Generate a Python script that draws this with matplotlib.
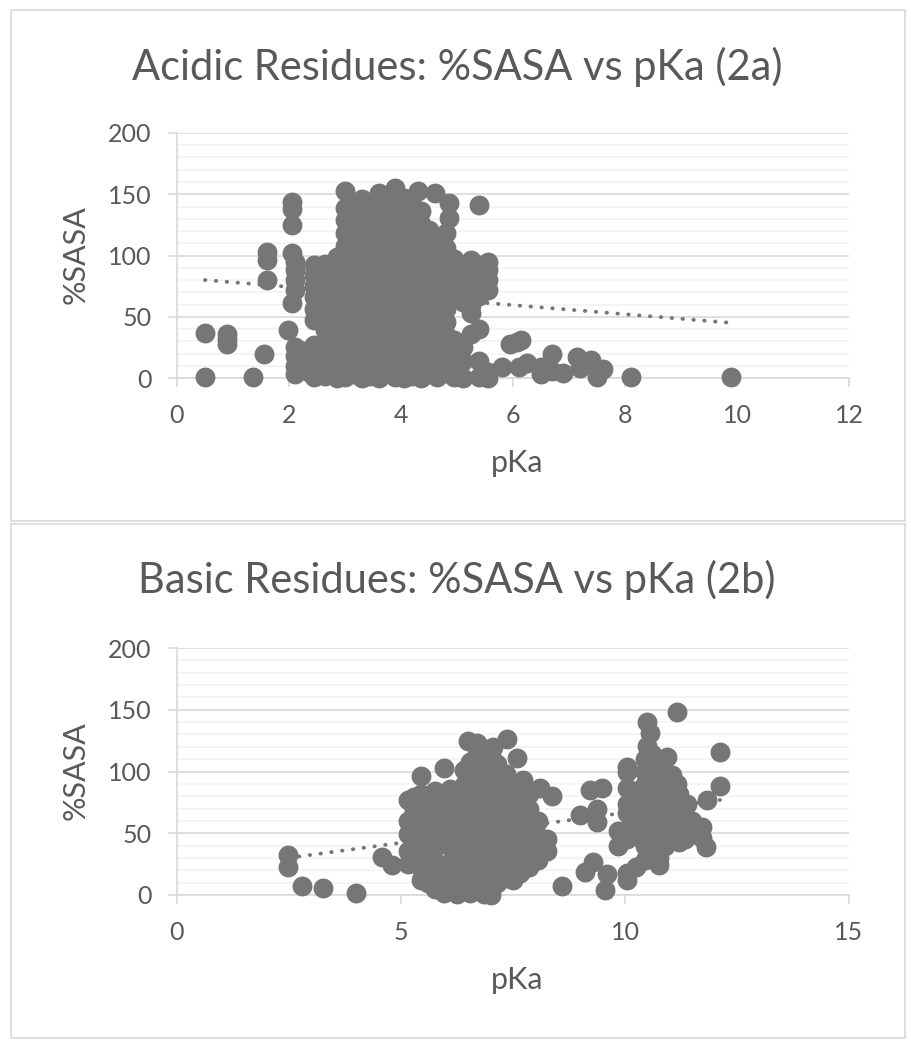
import matplotlib.pyplot as plt
from matplotlib.patches import Rectangle
from matplotlib.ticker import MultipleLocator

plt.rcParams['font.family'] = ['Lato', 'DejaVu Sans']

# (pKa, %SASA), acidic residues
acid_points = [
    # low pKa stragglers
    (0.5, 37), (0.5, 1), (0.9, 36), (0.9, 32), (0.9, 28), (1.35, 1), (1.55, 20),
    (1.6, 103), (1.6, 96), (1.6, 80),
    (2.05, 144), (2.05, 138), (2.05, 125), (2.05, 102), (2.1, 95), (2.1, 88),
    (2.1, 80), (2.1, 72), (2.05, 61), (1.98, 39), (2.1, 25), (2.1, 18), (2.1, 10),
    (2.1, 3), (2.25, 22), (2.3, 12), (2.35, 5), (2.4, 18),
    # main cluster
    (2.45, 1), (2.45, 9), (2.45, 17), (2.45, 27), (2.45, 47), (2.45, 56), (2.45, 66), (2.45, 75), (2.45, 84), (2.45, 92),
    (2.65, 2), (2.65, 11), (2.65, 20), (2.65, 30), (2.65, 39), (2.65, 49), (2.65, 58), (2.65, 68), (2.65, 77), (2.65, 86), (2.65, 93),
    (2.85, 0), (2.85, 9), (2.85, 18), (2.85, 28), (2.85, 38), (2.85, 47), (2.85, 57), (2.85, 66), (2.85, 76), (2.85, 85), (2.85, 91), (2.85, 99),
    (3.0, 1), (3.0, 12), (3.0, 22), (3.0, 33), (3.0, 44), (3.0, 54), (3.0, 65), (3.0, 76), (3.0, 86), (3.0, 97), (3.0, 108), (3.0, 118), (3.0, 129), (3.0, 139), (3.0, 153),
    (3.15, 3), (3.15, 8), (3.15, 19), (3.15, 29), (3.15, 40), (3.15, 51), (3.15, 61), (3.15, 72), (3.15, 83), (3.15, 93), (3.15, 104), (3.15, 114), (3.15, 125), (3.15, 136), (3.15, 143),
    (3.3, 0), (3.3, 14), (3.3, 25), (3.3, 36), (3.3, 46), (3.3, 57), (3.3, 68), (3.3, 79), (3.3, 89), (3.3, 100), (3.3, 111), (3.3, 121), (3.3, 132), (3.3, 146),
    (3.45, 2), (3.45, 9), (3.45, 20), (3.45, 31), (3.45, 42), (3.45, 52), (3.45, 63), (3.45, 74), (3.45, 85), (3.45, 95), (3.45, 106), (3.45, 117), (3.45, 127), (3.45, 138),
    (3.6, 0), (3.6, 13), (3.6, 24), (3.6, 35), (3.6, 45), (3.6, 56), (3.6, 67), (3.6, 78), (3.6, 88), (3.6, 99), (3.6, 110), (3.6, 120), (3.6, 131), (3.6, 141), (3.6, 151),
    (3.75, 4), (3.75, 10), (3.75, 19), (3.75, 30), (3.75, 41), (3.75, 51), (3.75, 62), (3.75, 73), (3.75, 84), (3.75, 94), (3.75, 105), (3.75, 116), (3.75, 126), (3.75, 137), (3.75, 146),
    (3.9, 1), (3.9, 14), (3.9, 25), (3.9, 36), (3.9, 46), (3.9, 57), (3.9, 68), (3.9, 79), (3.9, 89), (3.9, 100), (3.9, 111), (3.9, 121), (3.9, 132), (3.9, 143), (3.9, 155),
    (4.05, 0), (4.05, 8), (4.05, 20), (4.05, 31), (4.05, 42), (4.05, 52), (4.05, 63), (4.05, 74), (4.05, 85), (4.05, 95), (4.05, 106), (4.05, 117), (4.05, 127), (4.05, 138), (4.05, 147),
    (4.2, 2), (4.2, 13), (4.2, 24), (4.2, 35), (4.2, 45), (4.2, 56), (4.2, 67), (4.2, 78), (4.2, 88), (4.2, 99), (4.2, 110), (4.2, 120), (4.2, 131), (4.2, 141), (4.3, 153),
    (4.35, 0), (4.35, 9), (4.35, 19), (4.35, 30), (4.35, 41), (4.35, 51), (4.35, 62), (4.35, 73), (4.35, 84), (4.35, 94), (4.35, 105), (4.35, 115), (4.35, 126), (4.35, 136),
    (4.5, 3), (4.5, 14), (4.5, 25), (4.5, 36), (4.5, 46), (4.5, 57), (4.5, 68), (4.5, 79), (4.5, 89), (4.5, 100), (4.5, 111), (4.5, 121), (4.6, 151),
    (4.65, 1), (4.65, 8), (4.65, 20), (4.65, 31), (4.65, 42), (4.65, 52), (4.65, 63), (4.65, 74), (4.65, 85), (4.65, 95), (4.65, 104), (4.65, 113),
    (4.8, 4), (4.8, 13), (4.8, 24), (4.8, 35), (4.8, 46), (4.8, 56), (4.8, 66), (4.8, 76), (4.8, 86), (4.8, 96), (4.8, 106), (4.8, 118), (4.85, 131), (4.85, 143),
    (4.95, 1), (4.95, 12), (4.95, 22), (4.95, 31), (4.95, 66), (4.95, 77), (4.95, 87), (4.95, 97),
    (5.1, 0), (5.1, 14), (5.1, 25), (5.1, 62), (5.1, 72), (5.1, 82), (5.1, 92),
    (5.25, 36), (5.25, 53), (5.25, 60), (5.25, 69), (5.25, 79), (5.25, 88), (5.25, 96),
    (5.4, 1), (5.4, 14), (5.4, 40), (5.4, 67), (5.4, 75), (5.4, 84), (5.4, 92), (5.4, 141),
    (5.55, 0), (5.55, 5), (5.55, 72), (5.55, 80), (5.55, 88), (5.55, 95),
    # high pKa tail
    (5.8, 9), (5.95, 28), (6.07, 29), (6.15, 31), (6.1, 9), (6.25, 12), (6.5, 9),
    (6.5, 3), (6.7, 20), (6.7, 6), (6.9, 4), (7.15, 17), (7.2, 8), (7.4, 15),
    (7.5, 1), (7.6, 7), (8.1, 1), (9.9, 1),
]

# (pKa, %SASA), basic residues
basic_points = [
    # low pKa stragglers
    (2.48, 32), (2.48, 23), (2.8, 7), (3.25, 6), (4.0, 2), (4.58, 31), (4.8, 24),
    # cluster around pKa 6-8
    (5.15, 25), (5.15, 36), (5.15, 49), (5.15, 60), (5.15, 77),
    (5.3, 28), (5.3, 42), (5.3, 55), (5.3, 68), (5.3, 79),
    (5.45, 12), (5.45, 22), (5.45, 33), (5.45, 46), (5.45, 58), (5.45, 71), (5.45, 82), (5.45, 96),
    (5.6, 10), (5.6, 20), (5.6, 30), (5.6, 40), (5.6, 52), (5.6, 64), (5.6, 75),
    (5.75, 5), (5.75, 16), (5.75, 27), (5.75, 38), (5.75, 50), (5.75, 61), (5.75, 72), (5.75, 84),
    (5.95, 2), (5.95, 12), (5.95, 22), (5.95, 45), (5.95, 56), (5.95, 67), (5.95, 80), (5.95, 103),
    (6.1, 5), (6.1, 16), (6.1, 27), (6.1, 40), (6.1, 52), (6.1, 63), (6.1, 74), (6.1, 86),
    (6.25, 1), (6.25, 10), (6.25, 21), (6.25, 32), (6.25, 44), (6.25, 56), (6.25, 68), (6.25, 80),
    (6.4, 6), (6.4, 17), (6.4, 29), (6.4, 41), (6.4, 53), (6.4, 65), (6.4, 77), (6.4, 89), (6.4, 101), (6.5, 125),
    (6.55, 2), (6.55, 12), (6.55, 24), (6.55, 36), (6.55, 48), (6.55, 60), (6.55, 72), (6.55, 84), (6.55, 96), (6.55, 108),
    (6.7, 8), (6.7, 19), (6.7, 31), (6.7, 43), (6.7, 55), (6.7, 66), (6.7, 78), (6.7, 90), (6.7, 102), (6.7, 114), (6.7, 123),
    (6.85, 1), (6.85, 12), (6.85, 24), (6.85, 36), (6.85, 60), (6.85, 71), (6.85, 83), (6.85, 95), (6.85, 107), (6.85, 118),
    (7.0, 0), (7.0, 6), (7.0, 18), (7.0, 30), (7.0, 42), (7.0, 54), (7.0, 66), (7.0, 78), (7.0, 90), (7.0, 102), (7.0, 113), (7.05, 120),
    (7.15, 10), (7.15, 22), (7.15, 34), (7.15, 46), (7.15, 58), (7.15, 70), (7.15, 82), (7.15, 94), (7.15, 106),
    (7.35, 14), (7.35, 26), (7.35, 38), (7.35, 50), (7.35, 62), (7.35, 74), (7.35, 86), (7.35, 98), (7.37, 126),
    (7.5, 12), (7.5, 24), (7.5, 36), (7.5, 48), (7.5, 60), (7.5, 72), (7.5, 84), (7.6, 111),
    (7.65, 18), (7.65, 30), (7.65, 42), (7.65, 54), (7.65, 66), (7.65, 78), (7.73, 93),
    (7.85, 23), (7.85, 34), (7.85, 46), (7.85, 58), (7.85, 70), (7.85, 82),
    (8.05, 28), (8.05, 38), (8.05, 48), (8.05, 60), (8.1, 87),
    (8.25, 36), (8.25, 45), (8.37, 80),
    # between the clusters
    (8.6, 7), (9.0, 65), (9.22, 85), (9.49, 87), (9.37, 70), (9.37, 59), (9.29, 27),
    (9.1, 19), (9.6, 17), (9.55, 4), (9.85, 52), (9.85, 40),
    # cluster around pKa 10-12
    (10.05, 12), (10.05, 18), (10.05, 45), (10.05, 53), (10.05, 66), (10.05, 74), (10.05, 87), (10.05, 100), (10.05, 104),
    (10.25, 23), (10.25, 48), (10.25, 58), (10.25, 68), (10.25, 78), (10.25, 84),
    (10.45, 28), (10.45, 40), (10.45, 50), (10.45, 60), (10.45, 70), (10.45, 80), (10.45, 90), (10.45, 100), (10.45, 110), (10.5, 121), (10.55, 131), (10.5, 140),
    (10.6, 35), (10.6, 44), (10.6, 54), (10.6, 64), (10.6, 74), (10.6, 84), (10.6, 94), (10.6, 104), (10.6, 114),
    (10.75, 24), (10.75, 30), (10.75, 42), (10.75, 52), (10.75, 62), (10.75, 72), (10.75, 82), (10.75, 92), (10.75, 102),
    (10.9, 40), (10.9, 50), (10.9, 60), (10.9, 70), (10.9, 80), (10.9, 90), (10.9, 100), (10.94, 112),
    (11.05, 45), (11.05, 55), (11.05, 65), (11.05, 75), (11.05, 85), (11.05, 97),
    (11.2, 43), (11.2, 52), (11.2, 62), (11.2, 72), (11.2, 82), (11.15, 90), (11.16, 148),
    (11.35, 45), (11.35, 55), (11.35, 65), (11.38, 74),
    (11.5, 50), (11.5, 60), (11.72, 46), (11.72, 55), (11.8, 39), (11.83, 77),
    (12.12, 88), (12.12, 116),
]

# linear trendline ends, as drawn in the picture
acid_trend_pka = [0.5, 9.9]
acid_trend_sasa = [80, 45]
basic_trend_pka = [2.48, 12.12]
basic_trend_sasa = [30, 77]

acid_titles = ("Acidic Residues: %SASA vs pKa (2a)", 12, 2)
basic_titles = ("Basic Residues: %SASA vs pKa (2b)", 15, 5)

TEXT = '#595959'
MARK = '#767676'
GRID = '#d9d9d9'
MINOR = '#f2f2f2'

fig = plt.figure(figsize=(9.11, 10.5), dpi=100)


def panel(rect, points, tx, ty, xmax, xstep):
    ax = fig.add_axes(rect)
    pka = [p[0] for p in points]
    sasa = [p[1] for p in points]
    ax.set_xlim(0, xmax)
    ax.set_ylim(0, 200)
    ax.xaxis.set_major_locator(MultipleLocator(xstep))
    ax.yaxis.set_major_locator(MultipleLocator(50))
    ax.yaxis.set_minor_locator(MultipleLocator(10))
    ax.grid(which='minor', axis='y', color=MINOR, lw=1.2)
    ax.grid(which='major', axis='y', color=GRID, lw=1.2)
    ax.set_axisbelow(True)
    for s in ['top', 'right']:
        ax.spines[s].set_visible(False)
    for s in ['left', 'bottom']:
        ax.spines[s].set_color(GRID)
        ax.spines[s].set_linewidth(1.2)
    ax.tick_params(which='major', direction='out', length=6.5, width=1.2,
                   color=GRID, labelsize=18, labelcolor=TEXT, pad=12)
    ax.tick_params(which='minor', length=0)
    ax.plot(tx, ty, color=MARK, lw=2.8, linestyle=(0, (0.1, 2.7)),
            dash_capstyle='round', zorder=2)
    ax.scatter(pka, sasa, s=205, color=MARK, linewidths=0, zorder=3,
               clip_on=False)
    return ax


panel([177 / 911, 1 - 378 / 1050, 672 / 911, 245 / 1050], acid_points,
      acid_trend_pka, acid_trend_sasa, acid_titles[1], acid_titles[2])
panel([177 / 911, 1 - 895 / 1050, 672 / 911, 247 / 1050], basic_points,
      basic_trend_pka, basic_trend_sasa, basic_titles[1], basic_titles[2])

# titles and axis names
fig.text(457 / 911, 1 - 67 / 1050, acid_titles[0], ha='center', va='center',
         fontsize=30, color=TEXT)
fig.text(457 / 911, 1 - 580 / 1050, basic_titles[0], ha='center', va='center',
         fontsize=30, color=TEXT)
for yc in [255, 771]:
    fig.text(76 / 911, 1 - yc / 1050, '%SASA', rotation=90, ha='center',
             va='center', fontsize=22, color=TEXT)
for yc in [463, 980]:
    fig.text(517 / 911, 1 - yc / 1050, 'pKa', ha='center', va='center',
             fontsize=22, color=TEXT)

# chart area frames
fig.add_artist(Rectangle((11 / 911, 1 - 521 / 1050), 894 / 911, 511 / 1050,
                         transform=fig.transFigure, fill=False, ec=GRID, lw=1.2))
fig.add_artist(Rectangle((11 / 911, 1 - 1038 / 1050), 894 / 911, 514 / 1050,
                         transform=fig.transFigure, fill=False, ec=GRID, lw=1.2))

fig.savefig('out.png', dpi=100)
